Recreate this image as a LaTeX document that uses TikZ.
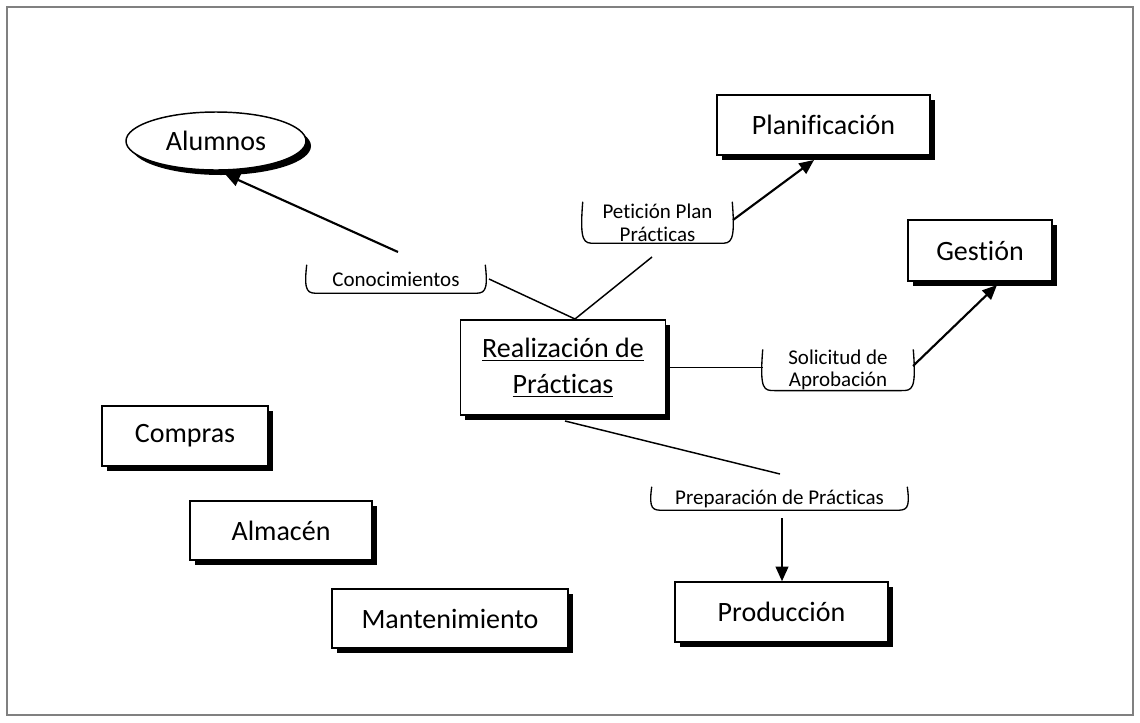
\documentclass[tikz,border=0pt]{standalone}
\usepackage{fontspec}
\setmainfont{Carlito}[Ligatures={NoCommon,NoRequired,NoContextual}]
\usetikzlibrary{shapes.geometric,shadows,arrows.meta}
\definecolor{framegray}{RGB}{128,128,128}
\newcommand\bracketof[1]{%
  \draw[line width=1pt] (#1.north west)
    .. controls ([xshift=-2.5pt]#1.south west) and ([xshift=1pt]#1.south west) .. ([xshift=9pt]#1.south west)
    -- ([xshift=-9pt]#1.south east)
    .. controls ([xshift=-1pt]#1.south east) and ([xshift=2.5pt]#1.south east) .. (#1.north east);}
\begin{document}
\begin{tikzpicture}[x=0.75pt,y=-0.75pt,
  shad/.style={drop shadow={shadow xshift=3.6pt,shadow yshift=-3.6pt,opacity=1,fill=black}},
  box/.style={draw,line width=1.1pt,fill=white,rectangle,inner sep=0pt,
    font=\fontsize{21}{27}\selectfont,align=center,shad},
  lab/.style={inner sep=0pt,align=center,font=\fontsize{15.75}{17}\selectfont},
  conn/.style={line width=1.1pt},
  arr/.style={line width=1.6pt,-{Triangle[length=11pt,width=9.5pt]}}]
\useasboundingbox (0,0) rectangle (1140,722);
\draw[framegray,line width=1.6pt] (7,7) rectangle (1133,715);

% Alumnos (ellipse drawn explicitly with shadow)
\fill[black] (221,146) ellipse [x radius=67.5pt, y radius=21.75pt];
\draw[line width=1.1pt,fill=white] (216,141) ellipse [x radius=67.5pt, y radius=21.75pt];
\node[font=\fontsize{21}{27}\selectfont,inner sep=0pt,minimum width=135pt,minimum height=43.5pt] (alum) at (216,141) {Alumnos};

% boxes
\node[box,minimum width=159.75pt,minimum height=45pt] (plan) at (823.5,125) {Planificación};
\node[box,minimum width=108pt,minimum height=45.75pt] (gest) at (980,250.5) {Gestión};
\node[box,minimum width=154pt,minimum height=71.25pt] (real) at (563,367.5) {\underline{Realización de}\\\underline{Prácticas}};
\node[box,minimum width=124.5pt,minimum height=45pt] (comp) at (185,436) {Compras};
\node[box,minimum width=136.5pt,minimum height=44.25pt] (alm) at (281,530.5) {Almacén};
\node[box,minimum width=177pt,minimum height=44.25pt] (mant) at (450,618.5) {Mantenimiento};
\node[box,minimum width=159.75pt,minimum height=45pt] (prod) at (781.5,612) {Producción};

% labels
\node[lab,minimum width=133.5pt,minimum height=21pt] (lcon) at (396,279) {Conocimientos};
\node[lab,minimum width=111.75pt,minimum height=30.75pt] (lpet) at (657.5,222.5) {Petición Plan\\Prácticas};
\node[lab,minimum width=112.5pt,minimum height=30pt] (lsol) at (838,370) {Solicitud de\\Aprobación};
\node[lab,minimum width=191.25pt,minimum height=17.25pt] (lprep) at (779.5,498.5) {Preparación de Prácticas};
\bracketof{lcon}
\bracketof{lpet}
\bracketof{lsol}
\bracketof{lprep}

% connector points
\coordinate (conTop) at (398,252);
\coordinate (alumTip) at (225,174);
\coordinate (realTop) at (575,319);
\coordinate (conR) at (489,279);
\coordinate (petBot) at (652,257);
\coordinate (petR) at (733,220);
\coordinate (planTip) at (814,160);
\coordinate (solR) at (913,366);
\coordinate (gestTip) at (997,285);
\coordinate (realB) at (565,421);
\coordinate (prepTop) at (780,474);
\coordinate (prepBot) at (782,518);

% connectors
\draw[conn] (realTop) -- (conR);
\draw[arr] (conTop) -- (alumTip);
\draw[conn] (realTop) -- (petBot);
\draw[arr] (petR) -- (planTip);
\draw[conn] (real.east) -- (real.east -| lsol.west);
\draw[arr] (solR) -- (gestTip);
\draw[conn] (realB) -- (prepTop);
\draw[arr] (prepBot) -- (prepBot |- prod.north);
\end{tikzpicture}
\end{document}
